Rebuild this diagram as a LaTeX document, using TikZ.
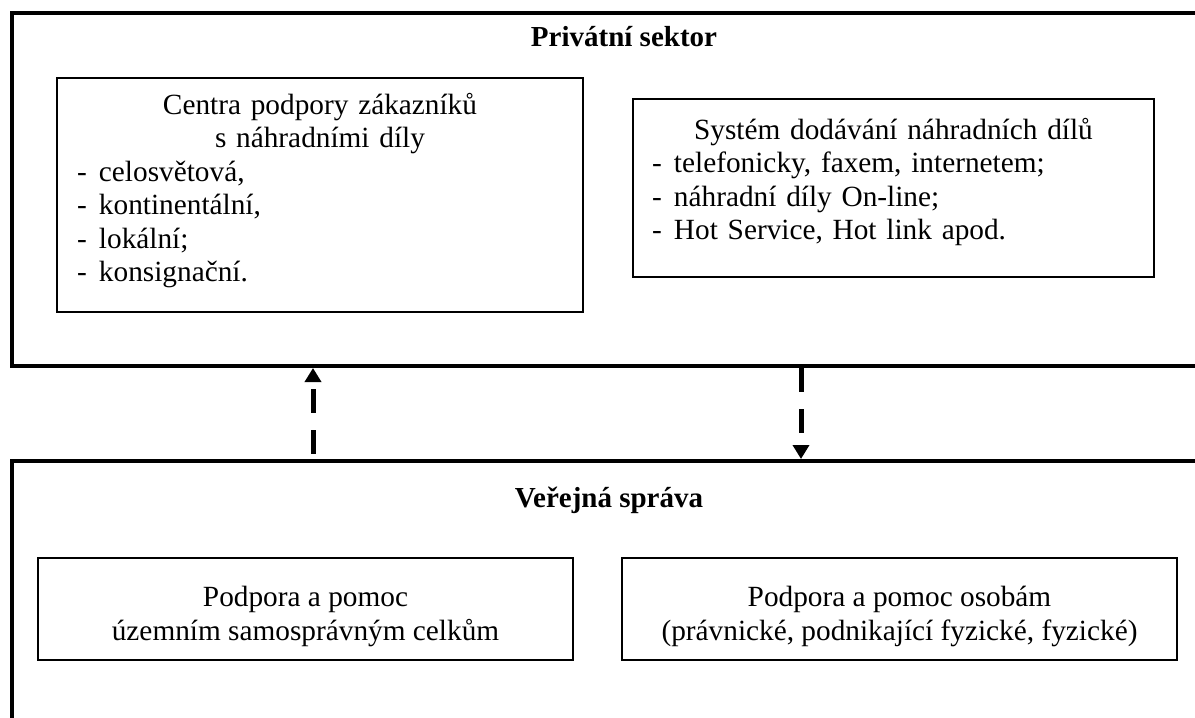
\documentclass[tikz,border=0pt]{standalone}
\usepackage{fontspec}
\setmainfont{Liberation Serif}
\usetikzlibrary{arrows.meta,positioning}

\newcommand{\odr}[1]{\makebox[22pt][l]{-}#1}

\tikzset{
  sektor/.style={draw, line width=4pt, inner sep=0pt},
  blok/.style={draw, line width=1.6pt, inner sep=0pt, inner xsep=20pt,
    font=\fontsize{29.3}{33.5}\selectfont},
  nadpis/.style={anchor=base, font=\fontsize{29}{33}\selectfont\bfseries},
  tok/.style={line width=5pt, dash pattern=on 24pt off 17pt},
  hrot/.tip={Triangle[length=14pt,width=16pt]}
}

\begin{document}
\begin{tikzpicture}[x=1pt, y=-1pt]
  \useasboundingbox (0,0) rectangle (1195,718);
  \clip (0,0) rectangle (1195,718);

  \node[sektor, minimum width=1224pt, minimum height=353pt] (privat) at (624,189.5) {};
  \node[sektor, minimum width=1194pt, minimum height=289pt] (verejna) at (609,605.5) {};

  \node[nadpis] (privathead) at (624,46) {Privátní sektor};
  \node[nadpis] (verejnahead) at (609,507) {Veřejná správa};

  \node[blok, text width=486pt, text height=24pt, text depth=186pt, minimum height=234pt, align=left] (centra) at (320,195)
    {\centering Centra podpory zákazníků\\ s náhradními díly\par
     \raggedright\odr{celosvětová,}\\ \odr{kontinentální,}\\ \odr{lokální;}\\ \odr{konsignační.}};
  \node[blok, text width=483pt, inner xsep=19pt, text height=24pt, text depth=122pt, minimum height=178pt, align=left] (dodavani) at (893.5,188)
    {\centering Systém dodávání náhradních dílů\par
     \raggedright\odr{telefonicky, faxem, internetem;}\\ \odr{náhradní díly On-line;}\\ \odr{Hot Service, Hot link apod.}};

  \node[blok, text height=62pt, text depth=0pt, minimum width=535pt, minimum height=102pt, align=center] (celky) at (305.5,609)
    {Podpora a pomoc\\ územním samosprávným celkům};
  \node[blok, text height=62pt, text depth=0pt, minimum width=555pt, minimum height=102pt, align=center] (osoby) at (899.5,609)
    {Podpora a pomoc osobám\\ (právnické, podnikající fyzické, fyzické)};

  \coordinate (nahoru) at (313,0);
  \coordinate (dolu) at (801,0);
  \draw[tok, dash phase=33pt, hrot-] (privat.south -| nahoru) -- (verejna.north -| nahoru);
  \draw[tok, -hrot] (privat.south -| dolu) -- (verejna.north -| dolu);
\end{tikzpicture}
\end{document}
